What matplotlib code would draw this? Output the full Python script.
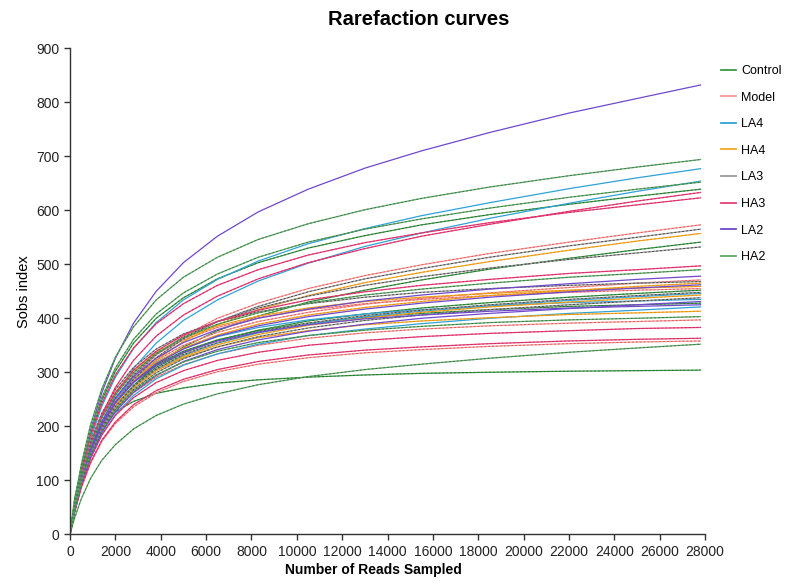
import matplotlib
matplotlib.use("Agg")
import matplotlib.pyplot as plt

plt.rcParams['font.family'] = ['Liberation Sans', 'DejaVu Sans']

# number of reads at which each curve was sampled
reads = [0, 200, 500, 900, 1400, 2000, 2800, 3800, 5000, 6500, 8300, 10500,
         13000, 15500, 18500, 22000, 25000, 27800]

groups = ['Control', 'Model', 'LA4', 'HA4', 'LA3', 'HA3', 'LA2', 'HA2']

# Sobs index per sample (one list per sample)
control = [
    [0, 54, 120, 186, 248, 302, 354, 400, 438, 473, 503, 530, 553, 573, 592, 611, 626, 639],
    [0, 40, 89, 141, 189, 233, 275, 314, 347, 377, 404, 430, 452, 471, 491, 511, 527, 541],
    [0, 45, 98, 151, 198, 238, 276, 309, 336, 359, 378, 395, 408, 419, 429, 439, 446, 452],
    [0, 48, 103, 157, 205, 245, 283, 314, 339, 360, 377, 391, 402, 409, 416, 422, 425, 428],
    [0, 66, 125, 170, 203, 227, 246, 261, 271, 280, 286, 291, 295, 298, 300, 302, 303, 304],
]
model = [
    [0, 43, 95, 149, 200, 246, 291, 332, 367, 400, 428, 455, 479, 499, 520, 541, 558, 573],
    [0, 47, 102, 157, 206, 248, 288, 322, 350, 374, 394, 411, 426, 437, 447, 457, 465, 471],
    [0, 51, 110, 167, 218, 261, 300, 334, 360, 383, 401, 416, 427, 435, 442, 448, 452, 455],
    [0, 44, 96, 146, 190, 228, 262, 291, 314, 334, 350, 363, 373, 380, 386, 391, 394, 397],
    [0, 40, 86, 131, 172, 205, 236, 262, 283, 301, 315, 327, 336, 342, 348, 353, 356, 358],
]
la4 = [
    [0, 50, 112, 176, 237, 291, 344, 392, 434, 472, 506, 538, 566, 590, 614, 640, 660, 677],
    [0, 42, 95, 151, 206, 257, 307, 354, 396, 434, 469, 502, 533, 558, 585, 613, 635, 654],
    [0, 45, 97, 149, 195, 235, 273, 305, 331, 354, 373, 389, 403, 413, 423, 433, 440, 446],
    [0, 49, 105, 160, 208, 250, 287, 319, 344, 366, 383, 397, 408, 416, 423, 429, 432, 435],
    [0, 42, 91, 140, 184, 222, 257, 288, 313, 334, 352, 368, 380, 390, 400, 409, 415, 421],
]
ha4 = [
    [0, 41, 92, 145, 195, 239, 283, 323, 357, 388, 416, 442, 466, 485, 505, 526, 543, 557],
    [0, 46, 101, 155, 204, 245, 284, 318, 345, 369, 389, 406, 420, 431, 442, 451, 459, 465],
    [0, 51, 111, 169, 220, 263, 303, 337, 363, 386, 404, 419, 431, 439, 446, 452, 456, 459],
    [0, 44, 96, 148, 194, 234, 271, 303, 329, 351, 370, 387, 400, 411, 421, 430, 437, 443],
    [0, 46, 100, 152, 198, 237, 273, 303, 327, 347, 364, 377, 388, 395, 401, 407, 410, 413],
]
la3 = [
    [0, 42, 93, 147, 197, 243, 287, 327, 362, 394, 422, 449, 473, 492, 513, 534, 550, 565],
    [0, 45, 100, 155, 207, 252, 295, 333, 365, 394, 419, 441, 461, 477, 493, 509, 521, 532],
    [0, 52, 113, 172, 224, 268, 309, 343, 371, 394, 412, 427, 439, 448, 455, 461, 465, 468],
    [0, 45, 97, 149, 196, 236, 274, 306, 333, 355, 375, 391, 405, 415, 425, 435, 442, 448],
    [0, 44, 95, 146, 192, 231, 268, 299, 325, 347, 366, 382, 396, 406, 416, 425, 432, 438],
]
ha3 = [
    [0, 47, 105, 165, 221, 272, 322, 367, 406, 441, 473, 503, 529, 552, 574, 598, 617, 633],
    [0, 53, 117, 182, 242, 295, 345, 390, 427, 461, 490, 517, 540, 558, 577, 596, 610, 623],
    [0, 50, 108, 166, 218, 262, 304, 339, 369, 394, 415, 434, 449, 461, 472, 483, 490, 497],
    [0, 43, 92, 141, 184, 220, 253, 281, 303, 322, 337, 350, 359, 366, 372, 377, 381, 383],
    [0, 41, 88, 133, 174, 208, 240, 266, 287, 305, 320, 332, 341, 347, 353, 358, 361, 363],
]
la2 = [
    [0, 54, 121, 193, 262, 326, 391, 450, 503, 552, 597, 639, 678, 710, 744, 780, 807, 832],
    [0, 48, 104, 159, 209, 252, 292, 326, 355, 379, 400, 417, 432, 443, 454, 464, 472, 478],
    [0, 46, 100, 154, 202, 244, 282, 316, 343, 367, 386, 403, 417, 428, 439, 449, 456, 462],
    [0, 43, 94, 144, 189, 227, 263, 294, 320, 342, 360, 376, 389, 400, 409, 418, 425, 431],
    [0, 47, 103, 156, 204, 244, 281, 312, 337, 358, 374, 388, 399, 406, 413, 419, 422, 425],
]
ha2 = [
    [0, 59, 130, 202, 269, 328, 384, 434, 476, 513, 546, 575, 601, 622, 643, 664, 680, 694],
    [0, 56, 122, 190, 253, 308, 361, 408, 447, 482, 513, 541, 565, 584, 604, 624, 639, 652],
    [0, 49, 106, 163, 215, 258, 299, 335, 364, 389, 410, 428, 443, 454, 465, 476, 483, 490],
    [0, 45, 97, 148, 193, 231, 266, 295, 319, 339, 355, 368, 378, 385, 392, 397, 400, 403],
    [0, 30, 66, 103, 137, 166, 195, 220, 241, 260, 277, 292, 305, 315, 326, 337, 345, 352],
]

samples = [control, model, la4, ha4, la3, ha3, la2, ha2]
colors = ['#3a9a45', '#f29a9a', '#2fa2d8', '#f5a623', '#9a9a9a', '#e6407a', '#7048cc', '#5ea866']
# darker dashes drawn over some curves, like the two-tone lines in the original
overlay = ['#1e4f22', '#e02828', None, '#d98200', '#111111', '#c8184f', None, '#235a2a']

fig = plt.figure(figsize=(7.85, 5.85), dpi=100)
ax = fig.add_axes([0.0892, 0.0867, 0.809, 0.8308])

for name, curves, c, oc in zip(groups, samples, colors, overlay):
    for i, vals in enumerate(curves):
        ax.plot(reads, vals, color=c, lw=0.9, label=name if i == 0 else None)
        if oc is not None:
            ax.plot(reads, vals, color=oc, lw=0.7, alpha=0.6, dashes=(2, 2))

ax.set_xlim(0, 28000)
ax.set_ylim(0, 900)
ax.set_xticks(range(0, 28001, 2000))
ax.set_yticks(range(0, 901, 100))
for s in ['top', 'right']:
    ax.spines[s].set_visible(False)
for s in ['left', 'bottom']:
    ax.spines[s].set_color('#333333')
    ax.spines[s].set_linewidth(1.0)
ax.tick_params(direction='out', length=4, width=1, color='#333333',
               labelsize=10, labelcolor='#222222')

ax.set_xlabel('Number of Reads Sampled', fontsize=10, fontweight='bold')
ax.set_ylabel('Sobs index', fontsize=10.5)
ax.xaxis.set_label_coords(0.477, -0.06)
ax.yaxis.set_label_coords(-0.062, 0.5)

fig.text(0.533, 0.966, 'Rarefaction curves', ha='center', va='center',
         fontsize=14.5, fontweight='bold')

handles, labels = ax.get_legend_handles_labels()
leg = fig.legend(handles, labels, loc='upper left', bbox_to_anchor=(0.919, 0.889),
                 frameon=False, fontsize=9, handlelength=1.2, handletextpad=0.4,
                 labelspacing=1.17, borderaxespad=0, borderpad=0)
for line in leg.get_lines():
    line.set_linewidth(1.3)

fig.savefig('out.png', dpi=100)
